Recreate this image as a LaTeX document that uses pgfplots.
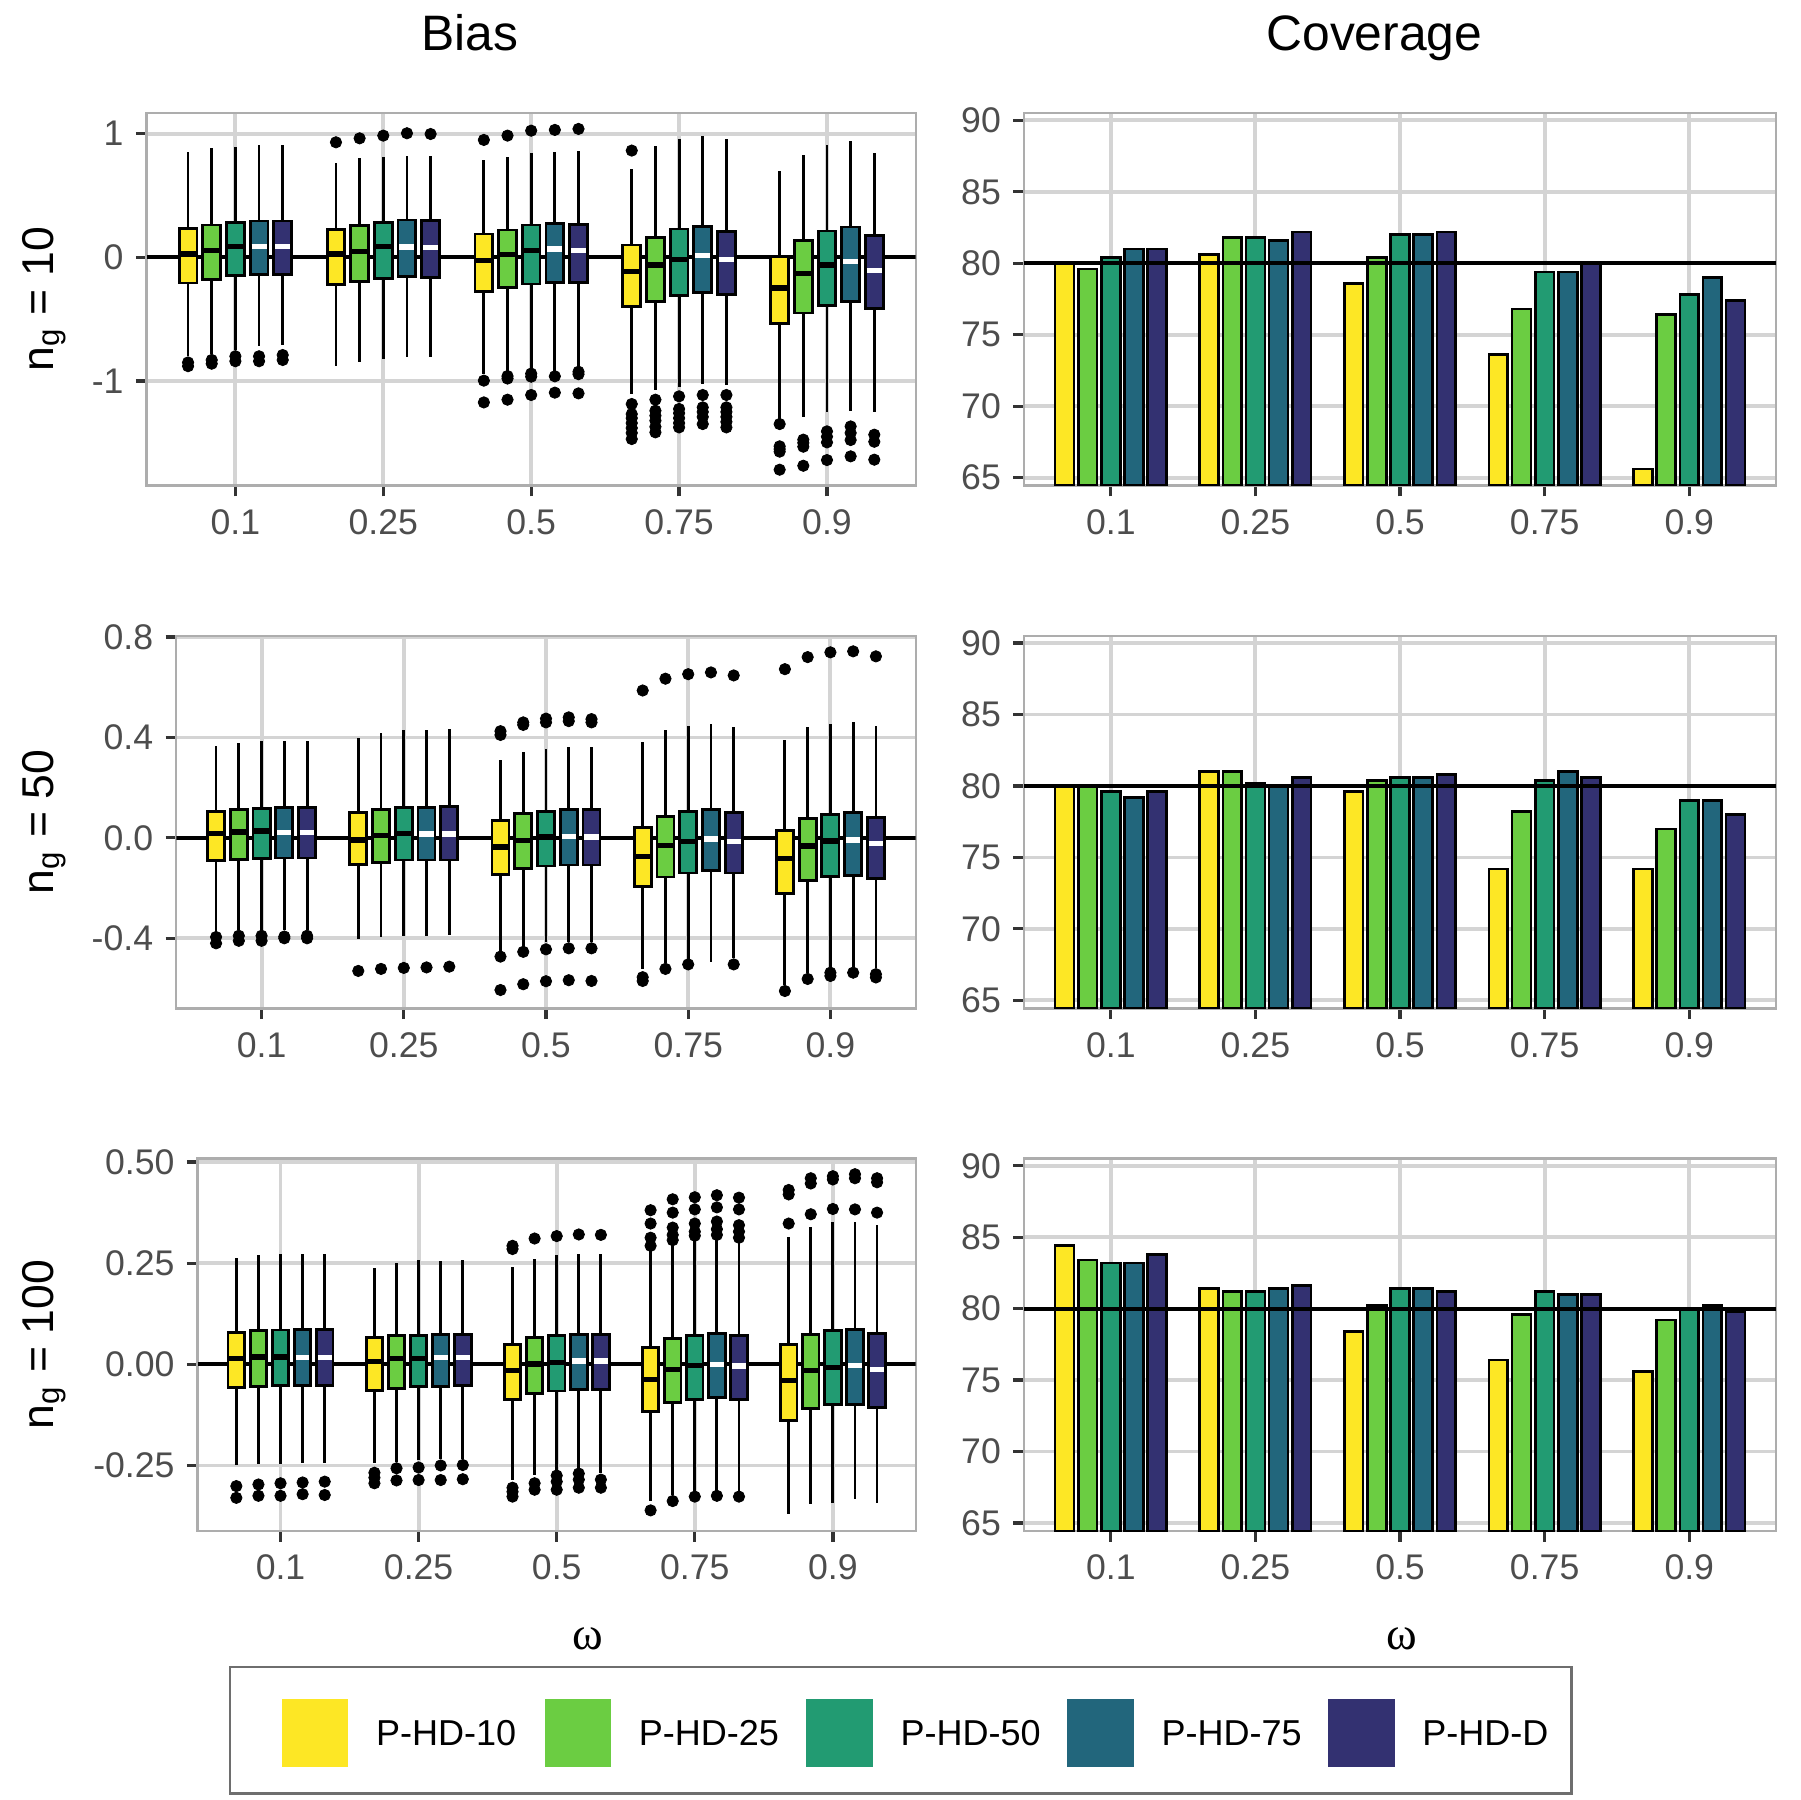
\documentclass[border=0pt]{standalone}
\usepackage{fontspec}
\setmainfont{Liberation Sans}
\newfontfamily\seriffont{Liberation Serif}
\usepackage{pgfplots}
\pgfplotsset{compat=1.18}
\usepgfplotslibrary{statistics}

\definecolor{c1}{HTML}{FDE725}
\definecolor{c2}{HTML}{6BCD42}
\definecolor{c3}{HTML}{229B72}
\definecolor{c4}{HTML}{22667C}
\definecolor{c5}{HTML}{333171}
\definecolor{gridgray}{HTML}{D4D4D4}
\definecolor{bordergray}{HTML}{ADADAD}
\definecolor{tickgray}{HTML}{333333}
\definecolor{labelgray}{HTML}{4D4D4D}
\definecolor{leggray}{HTML}{6E6E6E}

\newcommand{\tickfont}{\fontsize{8.8}{10.5}\selectfont}
\newcommand{\labfont}{\fontsize{11}{13}\selectfont}
\newcommand{\titfont}{\fontsize{12.3}{14.5}\selectfont}
\newcommand{\legfont}{\fontsize{8.9}{10.5}\selectfont}

\pgfplotsset{
  panel/.style={
    scale only axis, height=32.34mm, anchor=south west,
    xmin=0.4, xmax=5.6,
    xtick={1,2,3,4,5}, xticklabels={0.1,0.25,0.5,0.75,0.9},
    grid=major,
    major grid style={draw=gridgray, line width=0.95pt},
    axis line style={draw=bordergray, line width=0.6pt},
    tick align=outside, major tick length=0.93mm,
    tick style={draw=tickgray, line width=0.8pt},
    xtick pos=left, ytick pos=left,
    ticklabel style={font=\tickfont, text=labelgray, inner sep=0pt},
    xticklabel shift=1.07mm, yticklabel shift=1.01mm,
  },
  bxbase/.style={draw=black, line width=0.7pt, mark=*, mark size=1.4pt,
    mark options={draw=black, fill=black, line width=0.2pt},
    boxplot/draw direction=y, boxplot/box extend=0.12, boxplot/whisker extend=0},
  p1/.style={bxbase, boxplot/every box/.style={fill=c1}, boxplot/every median/.style={draw=black, line width=1.3pt}},
  p2/.style={bxbase, boxplot/every box/.style={fill=c2}, boxplot/every median/.style={draw=black, line width=1.3pt}},
  p3/.style={bxbase, boxplot/every box/.style={fill=c3}, boxplot/every median/.style={draw=black, line width=1.3pt}},
  p4/.style={bxbase, boxplot/every box/.style={fill=c4}, boxplot/every median/.style={draw=white, line width=1.3pt, shorten <=0.35pt, shorten >=0.35pt}},
  p5/.style={bxbase, boxplot/every box/.style={fill=c5}, boxplot/every median/.style={draw=white, line width=1.3pt, shorten <=0.35pt, shorten >=0.35pt}},
  br/.style={ybar, bar width=0.13, draw=black, line width=0.65pt},
  refline/.style={black, line width=1.0pt},
}

% style, position, lower whisker, lower quartile, median, upper quartile, upper whisker, outliers
\newcommand{\bx}[8]{\addplot[#1, boxplot prepared={draw position=#2, lower whisker=#3, lower quartile=#4, median=#5, upper quartile=#6, upper whisker=#7}] table[row sep=\\, y index=0] {y\\ #8};}

\begin{document}
\begin{tikzpicture}
\useasboundingbox (0,0) rectangle (156.25mm,156.25mm);

% ---------------- Row 1 : Bias ----------------
\begin{axis}[panel, at={(12.73mm,114.09mm)}, width=66.76mm,
  ymin=-1.846, ymax=1.166, ytick={-1,0,1}, yticklabels={-1,0,1}]
\addplot[refline] coordinates {(0.4,0) (5.6,0)};
\bx{p1}{0.68}{-0.80}{-0.208}{0.027}{0.234}{0.849}{-0.85\\ -0.88\\}
\bx{p2}{0.84}{-0.78}{-0.181}{0.054}{0.261}{0.881}{-0.83\\ -0.86\\}
\bx{p3}{1.00}{-0.75}{-0.148}{0.089}{0.280}{0.895}{-0.80\\ -0.84\\}
\bx{p4}{1.16}{-0.714}{-0.140}{0.089}{0.294}{0.911}{-0.80\\ -0.84\\}
\bx{p5}{1.32}{-0.709}{-0.140}{0.086}{0.294}{0.911}{-0.79\\ -0.83\\}
\bx{p1}{1.68}{-0.876}{-0.221}{0.027}{0.224}{0.763}{0.930\\}
\bx{p2}{1.84}{-0.844}{-0.194}{0.049}{0.259}{0.800}{0.962\\}
\bx{p3}{2.00}{-0.822}{-0.170}{0.086}{0.283}{0.814}{0.984\\}
\bx{p4}{2.16}{-0.803}{-0.156}{0.084}{0.302}{0.822}{1.003\\}
\bx{p5}{2.32}{-0.809}{-0.162}{0.078}{0.299}{0.822}{0.997\\}
\bx{p1}{2.68}{-0.943}{-0.278}{-0.027}{0.189}{0.787}{0.949\\ -0.997\\ -1.173\\}
\bx{p2}{2.84}{-0.916}{-0.243}{0.022}{0.221}{0.814}{0.984\\ -0.96\\ -0.98\\ -1.151\\}
\bx{p3}{3.00}{-0.903}{-0.216}{0.054}{0.261}{0.841}{1.024\\ -0.94\\ -0.965\\ -1.113\\}
\bx{p4}{3.16}{-0.916}{-0.202}{0.067}{0.275}{0.854}{1.030\\ -0.962\\ -1.094\\}
\bx{p5}{3.32}{-0.889}{-0.202}{0.054}{0.264}{0.860}{1.038\\ -0.925\\ -0.945\\ -1.100\\}
\bx{p1}{3.68}{-1.105}{-0.396}{-0.113}{0.100}{0.714}{0.863\\ -1.186\\ -1.267\\ -1.30\\ -1.34\\ -1.38\\ -1.42\\ -1.469\\}
\bx{p2}{3.84}{-1.073}{-0.356}{-0.062}{0.162}{0.903}{-1.151\\ -1.24\\ -1.28\\ -1.32\\ -1.37\\ -1.415\\}
\bx{p3}{4.00}{-1.046}{-0.310}{-0.016}{0.229}{0.957}{-1.124\\ -1.226\\ -1.26\\ -1.30\\ -1.34\\ -1.375\\}
\bx{p4}{4.16}{-1.024}{-0.283}{0.013}{0.251}{0.984}{-1.113\\ -1.213\\ -1.25\\ -1.29\\ -1.348\\}
\bx{p5}{4.32}{-1.032}{-0.302}{-0.019}{0.210}{0.957}{-1.113\\ -1.213\\ -1.25\\ -1.29\\ -1.33\\ -1.375\\}
\bx{p1}{4.68}{-1.313}{-0.534}{-0.248}{0.005}{0.695}{-1.348\\ -1.528\\ -1.55\\ -1.571\\ -1.717\\}
\bx{p2}{4.84}{-1.294}{-0.450}{-0.129}{0.135}{0.827}{-1.474\\ -1.50\\ -1.531\\ -1.685\\}
\bx{p3}{5.00}{-1.253}{-0.391}{-0.062}{0.213}{0.908}{-1.407\\ -1.45\\ -1.496\\ -1.639\\}
\bx{p4}{5.16}{-1.240}{-0.358}{-0.035}{0.245}{0.938}{-1.367\\ -1.42\\ -1.477\\ -1.609\\}
\bx{p5}{5.32}{-1.248}{-0.412}{-0.105}{0.175}{0.844}{-1.434\\ -1.491\\ -1.636\\}
\end{axis}

% ---------------- Row 2 : Bias ----------------
\begin{axis}[panel, at={(15.30mm,68.72mm)}, width=64.19mm,
  ymin=-0.679, ymax=0.805, ytick={-0.4,0,0.4,0.8}, yticklabels={-0.4,0.0,0.4,0.8}]
\addplot[refline] coordinates {(0.4,0) (5.6,0)};
\bx{p1}{0.68}{-0.373}{-0.089}{0.016}{0.105}{0.364}{-0.395\\ -0.42\\}
\bx{p2}{0.84}{-0.367}{-0.085}{0.023}{0.114}{0.377}{-0.39\\ -0.41\\}
\bx{p3}{1.00}{-0.367}{-0.081}{0.027}{0.117}{0.387}{-0.39\\ -0.41\\}
\bx{p4}{1.16}{-0.367}{-0.080}{0.021}{0.120}{0.387}{-0.393\\ -0.40\\}
\bx{p5}{1.32}{-0.367}{-0.080}{0.021}{0.120}{0.387}{-0.39\\ -0.40\\}
\bx{p1}{1.68}{-0.404}{-0.105}{-0.008}{0.101}{0.399}{-0.530\\}
\bx{p2}{1.84}{-0.393}{-0.097}{0.008}{0.114}{0.417}{-0.522\\}
\bx{p3}{2.00}{-0.389}{-0.088}{0.016}{0.120}{0.428}{-0.518\\}
\bx{p4}{2.16}{-0.389}{-0.088}{0.015}{0.120}{0.429}{-0.516\\}
\bx{p5}{2.32}{-0.387}{-0.088}{0.015}{0.125}{0.433}{-0.513\\}
\bx{p1}{2.68}{-0.453}{-0.145}{-0.036}{0.069}{0.310}{0.41\\ 0.425\\ -0.473\\ -0.606\\}
\bx{p2}{2.84}{-0.433}{-0.122}{-0.011}{0.096}{0.342}{0.45\\ 0.46\\ -0.454\\ -0.583\\}
\bx{p3}{3.00}{-0.413}{-0.112}{0.003}{0.105}{0.355}{0.46\\ 0.475\\ -0.444\\ -0.571\\}
\bx{p4}{3.16}{-0.413}{-0.108}{0.004}{0.112}{0.360}{0.465\\ 0.48\\ -0.44\\ -0.567\\}
\bx{p5}{3.32}{-0.413}{-0.108}{0.003}{0.112}{0.361}{0.46\\ 0.473\\ -0.44\\ -0.57\\}
\bx{p1}{3.68}{-0.524}{-0.194}{-0.074}{0.041}{0.380}{0.587\\ -0.555\\ -0.57\\}
\bx{p2}{3.84}{-0.500}{-0.156}{-0.031}{0.085}{0.430}{0.634\\ -0.522\\}
\bx{p3}{4.00}{-0.486}{-0.140}{-0.013}{0.104}{0.444}{0.652\\ -0.504\\}
\bx{p4}{4.16}{-0.493}{-0.130}{-0.005}{0.112}{0.453}{0.659\\}
\bx{p5}{4.32}{-0.480}{-0.140}{-0.013}{0.102}{0.441}{0.647\\ -0.504\\}
\bx{p1}{4.68}{-0.586}{-0.221}{-0.082}{0.029}{0.391}{0.672\\ -0.61\\}
\bx{p2}{4.84}{-0.540}{-0.170}{-0.032}{0.076}{0.440}{0.720\\ -0.562\\}
\bx{p3}{5.00}{-0.516}{-0.154}{-0.012}{0.094}{0.454}{0.739\\ -0.537\\ -0.55\\}
\bx{p4}{5.16}{-0.516}{-0.150}{-0.008}{0.101}{0.460}{0.743\\ -0.537\\}
\bx{p5}{5.32}{-0.520}{-0.161}{-0.021}{0.082}{0.444}{0.723\\ -0.543\\ -0.556\\}
\end{axis}

% ---------------- Row 3 : Bias ----------------
\begin{axis}[panel, at={(17.16mm,23.35mm)}, width=62.33mm,
  ymin=-0.412, ymax=0.509, ytick={-0.25,0,0.25,0.5}, yticklabels={-0.25,0.00,0.25,0.50}]
\addplot[refline] coordinates {(0.4,0) (5.6,0)};
\bx{p1}{0.68}{-0.250}{-0.058}{0.015}{0.079}{0.264}{-0.301\\ -0.330\\}
\bx{p2}{0.84}{-0.247}{-0.054}{0.018}{0.083}{0.270}{-0.297\\ -0.325\\}
\bx{p3}{1.00}{-0.246}{-0.053}{0.018}{0.085}{0.272}{-0.294\\ -0.325\\}
\bx{p4}{1.16}{-0.245}{-0.053}{0.016}{0.086}{0.273}{-0.292\\ -0.321\\}
\bx{p5}{1.32}{-0.244}{-0.053}{0.016}{0.086}{0.273}{-0.290\\ -0.323\\}
\bx{p1}{1.68}{-0.245}{-0.064}{0.007}{0.066}{0.239}{-0.268\\ -0.280\\ -0.294\\}
\bx{p2}{1.84}{-0.241}{-0.059}{0.015}{0.071}{0.251}{-0.257\\ -0.287\\}
\bx{p3}{2.00}{-0.236}{-0.055}{0.015}{0.072}{0.257}{-0.255\\ -0.286\\}
\bx{p4}{2.16}{-0.235}{-0.054}{0.016}{0.074}{0.256}{-0.250\\ -0.286\\}
\bx{p5}{2.32}{-0.235}{-0.053}{0.017}{0.074}{0.259}{-0.249\\ -0.284\\}
\bx{p1}{2.68}{-0.286}{-0.086}{-0.016}{0.049}{0.241}{0.285\\ 0.293\\ -0.305\\ -0.315\\ -0.327\\}
\bx{p2}{2.84}{-0.273}{-0.072}{0.001}{0.066}{0.260}{0.311\\ -0.294\\ -0.31\\}
\bx{p3}{3.00}{-0.265}{-0.066}{0.005}{0.072}{0.270}{0.317\\ -0.275\\ -0.29\\ -0.31\\}
\bx{p4}{3.16}{-0.265}{-0.063}{0.008}{0.074}{0.272}{0.321\\ -0.27\\ -0.285\\ -0.305\\}
\bx{p5}{3.32}{-0.269}{-0.063}{0.008}{0.074}{0.272}{0.320\\ -0.285\\ -0.305\\}
\bx{p1}{3.68}{-0.339}{-0.117}{-0.037}{0.041}{0.283}{0.381\\ 0.348\\ 0.313\\ 0.293\\ -0.361\\}
\bx{p2}{3.84}{-0.323}{-0.094}{-0.012}{0.064}{0.299}{0.408\\ 0.375\\ 0.338\\ 0.32\\ 0.307\\ -0.338\\}
\bx{p3}{4.00}{-0.315}{-0.086}{-0.002}{0.072}{0.307}{0.413\\ 0.383\\ 0.348\\ 0.328\\ 0.318\\ -0.327\\}
\bx{p4}{4.16}{-0.313}{-0.082}{0.000}{0.077}{0.307}{0.418\\ 0.388\\ 0.353\\ 0.334\\ 0.32\\ -0.325\\}
\bx{p5}{4.32}{-0.315}{-0.086}{-0.004}{0.072}{0.303}{0.412\\ 0.383\\ 0.344\\ 0.328\\ 0.313\\ -0.327\\}
\bx{p1}{4.68}{-0.371}{-0.138}{-0.040}{0.048}{0.315}{0.431\\ 0.420\\ 0.348\\}
\bx{p2}{4.84}{-0.346}{-0.110}{-0.016}{0.074}{0.340}{0.460\\ 0.447\\ 0.371\\}
\bx{p3}{5.00}{-0.342}{-0.100}{-0.007}{0.083}{0.353}{0.465\\ 0.457\\ 0.384\\}
\bx{p4}{5.16}{-0.334}{-0.099}{-0.002}{0.087}{0.353}{0.470\\ 0.460\\ 0.383\\}
\bx{p5}{5.32}{-0.343}{-0.107}{-0.012}{0.077}{0.344}{0.460\\ 0.450\\ 0.375\\}
\end{axis}

% ---------------- Row 1 : Coverage ----------------
\begin{axis}[panel, at={(88.89mm,114.09mm)}, width=65.28mm,
  ymin=64.44, ymax=90.51, ytick={65,70,75,80,85,90}, yticklabels={65,70,75,80,85,90}]
\addplot[br, fill=c1, bar shift=-0.32] coordinates {(1,80.0) (2,80.6) (3,78.6) (4,73.6) (5,65.6)};
\addplot[br, fill=c2, bar shift=-0.16] coordinates {(1,79.6) (2,81.8) (3,80.4) (4,76.8) (5,76.4)};
\addplot[br, fill=c3, bar shift=0]     coordinates {(1,80.4) (2,81.8) (3,82.0) (4,79.4) (5,77.8)};
\addplot[br, fill=c4, bar shift=0.16]  coordinates {(1,81.0) (2,81.6) (3,82.0) (4,79.4) (5,79.0)};
\addplot[br, fill=c5, bar shift=0.32]  coordinates {(1,81.0) (2,82.2) (3,82.2) (4,80.0) (5,77.4)};
\addplot[refline] coordinates {(0.4,80) (5.6,80)};
\end{axis}

% ---------------- Row 2 : Coverage ----------------
\begin{axis}[panel, at={(88.89mm,68.72mm)}, width=65.28mm,
  ymin=64.44, ymax=90.51, ytick={65,70,75,80,85,90}, yticklabels={65,70,75,80,85,90}]
\addplot[br, fill=c1, bar shift=-0.32] coordinates {(1,80.0) (2,81.0) (3,79.6) (4,74.2) (5,74.2)};
\addplot[br, fill=c2, bar shift=-0.16] coordinates {(1,80.0) (2,81.0) (3,80.4) (4,78.2) (5,77.0)};
\addplot[br, fill=c3, bar shift=0]     coordinates {(1,79.6) (2,80.2) (3,80.6) (4,80.4) (5,79.0)};
\addplot[br, fill=c4, bar shift=0.16]  coordinates {(1,79.2) (2,80.0) (3,80.6) (4,81.0) (5,79.0)};
\addplot[br, fill=c5, bar shift=0.32]  coordinates {(1,79.6) (2,80.6) (3,80.8) (4,80.6) (5,78.0)};
\addplot[refline] coordinates {(0.4,80) (5.6,80)};
\end{axis}

% ---------------- Row 3 : Coverage ----------------
\begin{axis}[panel, at={(88.89mm,23.35mm)}, width=65.28mm,
  ymin=64.44, ymax=90.51, ytick={65,70,75,80,85,90}, yticklabels={65,70,75,80,85,90}]
\addplot[br, fill=c1, bar shift=-0.32] coordinates {(1,84.4) (2,81.4) (3,78.4) (4,76.4) (5,75.6)};
\addplot[br, fill=c2, bar shift=-0.16] coordinates {(1,83.4) (2,81.2) (3,80.2) (4,79.6) (5,79.2)};
\addplot[br, fill=c3, bar shift=0]     coordinates {(1,83.2) (2,81.2) (3,81.4) (4,81.2) (5,80.0)};
\addplot[br, fill=c4, bar shift=0.16]  coordinates {(1,83.2) (2,81.4) (3,81.4) (4,81.0) (5,80.2)};
\addplot[br, fill=c5, bar shift=0.32]  coordinates {(1,83.8) (2,81.6) (3,81.2) (4,81.0) (5,79.8)};
\addplot[refline] coordinates {(0.4,80) (5.6,80)};
\end{axis}

% ---------------- Titles and labels ----------------
\node[anchor=base, font=\titfont, inner sep=0pt] at (40.77mm,151.85mm) {Bias};
\node[anchor=base, font=\titfont, inner sep=0pt] at (119.3mm,151.85mm) {Coverage};
\node[rotate=90, anchor=base, font=\labfont, inner sep=0pt] at (4.63mm,130.26mm) {n\textsubscript{g} = 10};
\node[rotate=90, anchor=base, font=\labfont, inner sep=0pt] at (4.63mm,84.88mm) {n\textsubscript{g} = 50};
\node[rotate=90, anchor=base, font=\labfont, inner sep=0pt] at (4.63mm,39.52mm) {n\textsubscript{g} = 100};
\node[anchor=base, font=\seriffont\fontsize{11.5}{13}\selectfont, inner sep=0pt] at (51.0mm,13.05mm) {ω};
\node[anchor=base, font=\seriffont\fontsize{11.5}{13}\selectfont, inner sep=0pt] at (121.7mm,13.05mm) {ω};

% ---------------- Legend ----------------
\draw[leggray, line width=0.6pt] (19.97mm,0.55mm) rectangle (136.40mm,11.55mm);
\foreach \c/\x/\t in {c1/24.47/P-HD-10, c2/47.28/P-HD-25, c3/70.00/P-HD-50, c4/92.66/P-HD-75, c5/115.30/P-HD-D}{
  \fill[\c] (\x mm,2.88mm) rectangle ++(5.78mm,5.90mm);
  \node[anchor=west, font=\legfont, inner sep=0pt] at ({\x mm + 8.10mm},5.83mm) {\t};
}
\end{tikzpicture}
\end{document}
